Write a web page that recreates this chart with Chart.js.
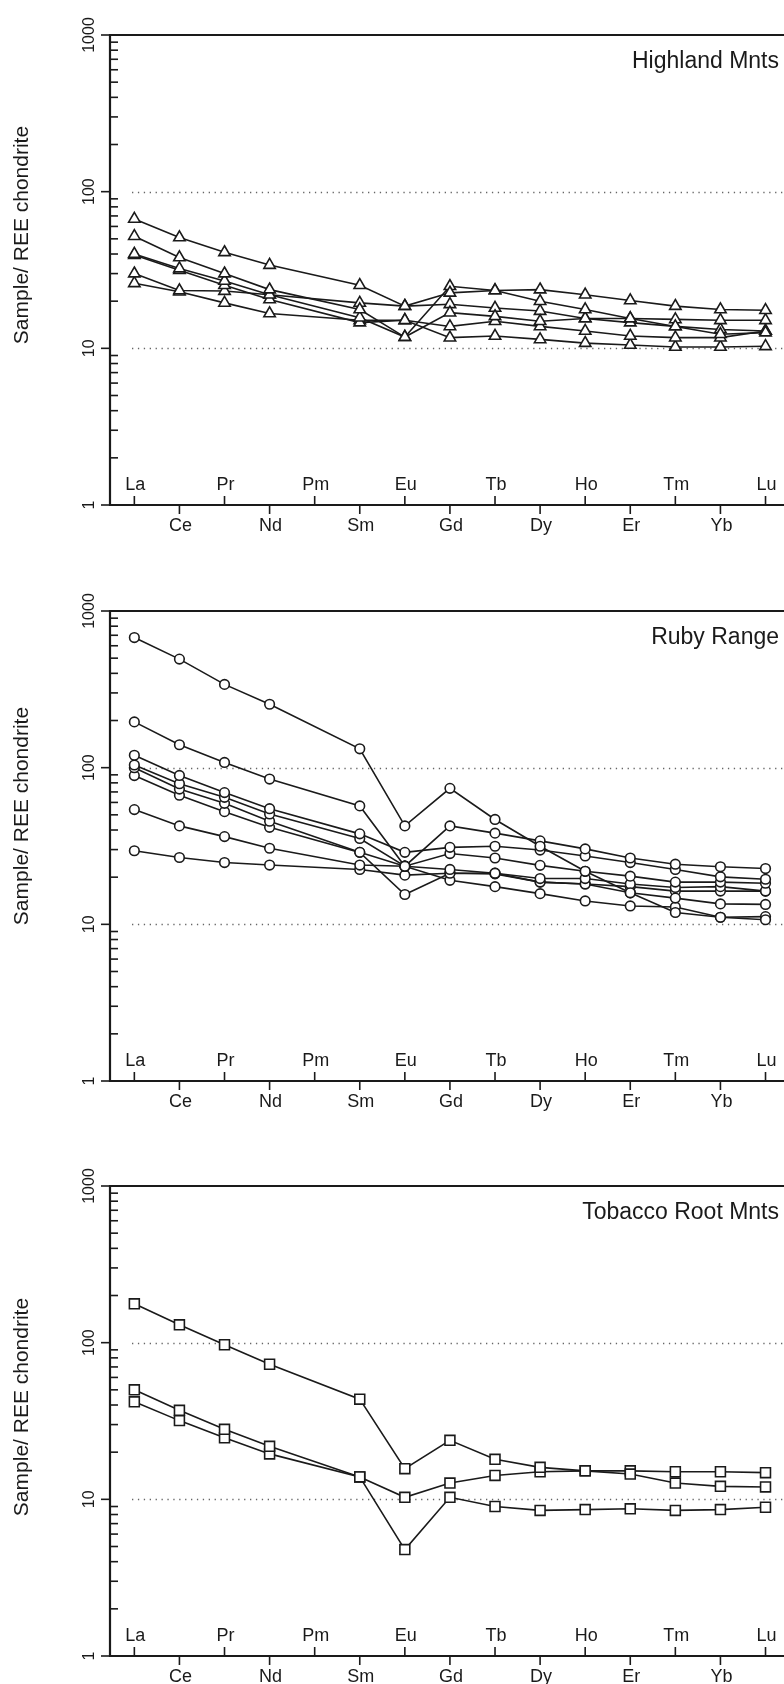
<!DOCTYPE html>
<html>
<head>
<meta charset="utf-8">
<script src="https://cdn.jsdelivr.net/npm/chart.js@4.4.0/dist/chart.umd.min.js"></script>
<style>
    body { margin: 0; background: #fff; }
    canvas { display: block; }
</style>
</head>
<body>
<canvas id="grafico1" width="784" height="560"></canvas>
<canvas id="grafico2" width="784" height="570"></canvas>
<canvas id="grafico3" width="784" height="554"></canvas>
<script>
// elementos de tierras raras (eje x) y marcas del eje y
var elementos = ['La', 'Ce', 'Pr', 'Nd', 'Pm', 'Sm', 'Eu', 'Gd', 'Tb', 'Dy', 'Ho', 'Er', 'Tm', 'Yb', 'Lu'];
var marcasY = [1, 10, 100, 1000];
var lineasGuia = [10, 100];

// Highland Mnts (triangulos)
var hm1 = [67, 51, 41, 34, null, 25.3, 18.6, 22.6, 23.4, 23.7, 22, 20.2, 18.6, 17.7, 17.5];
var hm2 = [52, 38, 30, 23.7, null, 17.7, 11.8, 24.9, 23.4, 20, 17.7, 15.5, 13.8, 12.3, 12.6];
var hm3 = [40, 32.3, 26.9, 22, null, 15.7, 11.8, 16.9, 16, 14.9, 15.5, 15.5, 15.3, 15.1, 15.1];
var hm4 = [39.4, 31.5, 25.3, 20.5, null, 14.6, 15.1, 13.8, 14.9, 13.8, 12.9, 12, 11.7, 11.7, 12.9];
var hm5 = [30, 23.4, 23.2, 22, null, 19.5, 18.6, 19.1, 18.1, 17.3, 15.5, 14.6, 13.8, 13.2, 12.9];
var hm6 = [26, 23, 19.5, 16.7, null, 15.1, 15.1, 11.7, 12, 11.4, 10.8, 10.5, 10.2, 10.2, 10.3];

// Ruby Range (circulos)
var rr1 = [677, 493, 340, 254, null, 132, 42.5, 73.8, 46.7, 31.5, 21.8, 15.9, 11.9, 11.1, 10.7];
var rr2 = [196, 140, 108, 84.6, null, 57, 23.5, 42.5, 38.2, 34.1, 30.3, 26.5, 24.2, 23.3, 22.7];
var rr3 = [120, 89.2, 69.3, 54.7, null, 37.8, 28.8, 31, 31.5, 29.8, 27.3, 24.8, 22.4, 20.1, 19.4];
var rr4 = [104, 79, 64.7, 50.6, null, 35.3, 23.5, 28.3, 26.5, 23.8, 21.8, 20.3, 18.6, 18.6, 18.3];
var rr5 = [100, 73, 59.2, 45.5, null, 28.8, 23.5, 22.4, 21.2, 19.6, 19.6, 18.1, 17.2, 17.4, 16.3];
var rr6 = [89, 66.7, 52.4, 41.6, null, 28.8, 15.5, 21.2, 21, 18.6, 18.1, 15.9, 14.7, 13.5, 13.4];
var rr7 = [54, 42.5, 36.3, 30.6, null, 23.9, 23.5, 19.1, 17.4, 15.7, 14.1, 13.1, 12.9, 11.1, 11.2];
var rr8 = [29.5, 26.7, 24.8, 23.9, null, 22.4, 20.6, 21.2, 21.2, 18.6, 18.1, 17.4, 16.3, 16.3, 16.3];

// Tobacco Root Mnts (cuadrados)
var tr1 = [177, 130, 97, 72.8, null, 43.6, 15.7, 23.8, 18, 16, 15.2, 14.5, 12.7, 12.1, 12];
var tr2 = [50, 37, 28, 21.8, null, 13.9, 10.3, 12.7, 14.2, 15, 15.2, 15.2, 15, 15, 14.8];
var tr3 = [41.9, 31.8, 24.7, 19.5, null, 13.9, 4.78, 10.3, 9.0, 8.5, 8.6, 8.7, 8.5, 8.6, 8.9];

var FUENTE = '"Liberation Sans", Arial, sans-serif';
var NEGRO = '#1a1a1a';

// dibuja marco, marcas, etiquetas y titulos
var pluginEjes = {
    id: 'ejes',
    beforeDatasetsDraw: function (chart) {
        var ctx = chart.ctx;
        var area = chart.chartArea;
        var y = chart.scales.y;
        ctx.save();
        ctx.strokeStyle = '#666';
        ctx.lineWidth = 1.3;
        ctx.setLineDash([1.3, 4.6]);
        lineasGuia.forEach(function (v) {
            var py = Math.round(y.getPixelForValue(v)) + 0.5;
            ctx.beginPath();
            ctx.moveTo(area.left + 22, py);
            ctx.lineTo(area.right, py);
            ctx.stroke();
        });
        ctx.restore();
    },
    afterDatasetsDraw: function (chart, args, opts) {
        var ctx = chart.ctx;
        var area = chart.chartArea;
        var x = chart.scales.x;
        var y = chart.scales.y;
        ctx.save();
        ctx.strokeStyle = NEGRO;
        ctx.fillStyle = NEGRO;

        // marco: arriba, izquierda, abajo
        ctx.lineWidth = 2.2;
        ctx.beginPath();
        ctx.moveTo(area.right, area.top);
        ctx.lineTo(area.left, area.top);
        ctx.lineTo(area.left, area.bottom);
        ctx.lineTo(area.right, area.bottom);
        ctx.stroke();

        // marcas menores del eje y (hacia adentro)
        ctx.lineWidth = 1.6;
        [1, 10, 100].forEach(function (d) {
            for (var m = 2; m < 10; m++) {
                var py = y.getPixelForValue(d * m);
                ctx.beginPath();
                ctx.moveTo(area.left, py);
                ctx.lineTo(area.left + 8, py);
                ctx.stroke();
            }
        });

        // marcas mayores y etiquetas del eje y
        ctx.font = '16px ' + FUENTE;
        ctx.textAlign = 'center';
        ctx.textBaseline = 'middle';
        marcasY.forEach(function (v) {
            var py = y.getPixelForValue(v);
            ctx.beginPath();
            ctx.moveTo(area.left - 9, py);
            ctx.lineTo(area.left, py);
            ctx.stroke();
            ctx.save();
            ctx.translate(area.left - 20, py);
            ctx.rotate(-Math.PI / 2);
            ctx.fillText(String(v), 0, 0);
            ctx.restore();
        });

        // eje x: etiquetas alternadas arriba / abajo
        ctx.font = '18px ' + FUENTE;
        elementos.forEach(function (el, i) {
            var px = x.getPixelForValue(i);
            ctx.beginPath();
            if (i % 2 === 0) {
                ctx.moveTo(px, area.bottom);
                ctx.lineTo(px, area.bottom - 9);
                ctx.stroke();
                ctx.fillText(el, px + 1, area.bottom - 20);
            } else {
                ctx.moveTo(px, area.bottom);
                ctx.lineTo(px, area.bottom + 9);
                ctx.stroke();
                ctx.fillText(el, px + 1, area.bottom + 21);
            }
        });

        // titulo del eje y
        ctx.font = '21px ' + FUENTE;
        ctx.save();
        ctx.translate(22, opts.tituloY);
        ctx.rotate(-Math.PI / 2);
        ctx.fillText('Sample/ REE chondrite', 0, 0);
        ctx.restore();

        // nombre de la localidad
        ctx.font = '23px ' + FUENTE;
        ctx.textAlign = 'right';
        ctx.fillText(opts.titulo, 779, area.top + 27);
        ctx.restore();
    }
};

function armarPuntos(serie) {
    var puntos = [];
    serie.forEach(function (v, i) {
        if (v !== null) {
            puntos.push({x: i, y: v});
        }
    });
    return puntos;
}

function graficar(idCanvas, series, estilo, radio, titulo, tituloY, padTop, padBottom) {
    var ctx = document.getElementById(idCanvas).getContext('2d');
    var datasets = [];
    series.forEach(function (serie) {
        datasets.push({
            data: armarPuntos(serie),
            borderColor: NEGRO,
            borderWidth: 1.6,
            pointStyle: estilo,
            pointRadius: radio,
            pointBorderWidth: 1.6,
            pointBorderColor: NEGRO,
            pointBackgroundColor: '#fff',
            fill: false,
            tension: 0
        });
    });
    new Chart(ctx, {
        type: 'line',
        data: {datasets: datasets},
        options: {
            responsive: false,
            animation: false,
            devicePixelRatio: 1,
            layout: {
                autoPadding: false,
                padding: {left: 110, right: 0, top: padTop, bottom: padBottom}
            },
            scales: {
                x: {type: 'linear', min: -0.54, max: 14.41, display: false},
                y: {type: 'logarithmic', min: 1, max: 1000, display: false}
            },
            plugins: {
                legend: {display: false},
                tooltip: {enabled: false},
                ejes: {titulo: titulo, tituloY: tituloY}
            }
        },
        plugins: [pluginEjes]
    });
}

graficar('grafico1', [hm1, hm2, hm3, hm4, hm5, hm6], 'triangle', 6.6, 'Highland Mnts', 235, 35, 55);
graficar('grafico2', [rr1, rr2, rr3, rr4, rr5, rr6, rr7, rr8], 'circle', 4.8, 'Ruby Range', 256, 51, 49);
graficar('grafico3', [tr1, tr2, tr3], 'rect', 7, 'Tobacco Root Mnts', 277, 56, 28);
</script>
</body>
</html>
